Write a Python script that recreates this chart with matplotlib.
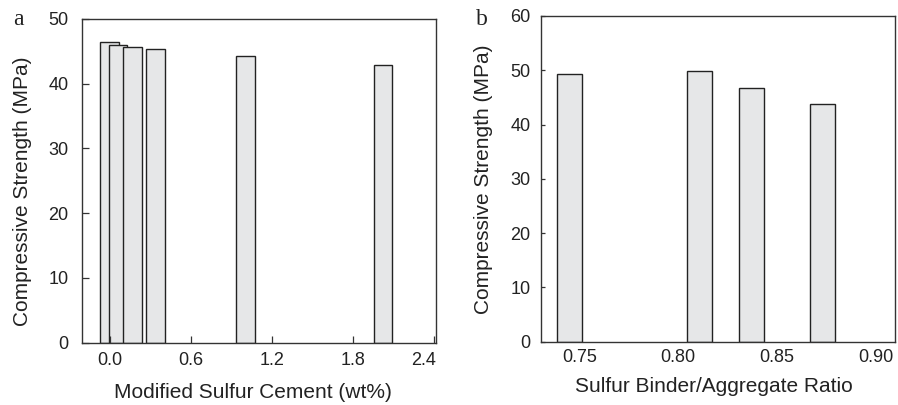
import matplotlib
matplotlib.use('Agg')
import matplotlib.pyplot as plt
import matplotlib.transforms as mtransforms

plt.rcParams['font.family'] = ['Liberation Sans', 'DejaVu Sans']

# panel a: modified sulfur cement content
msc_wt = [0.0, 0.06, 0.17, 0.34, 1.0, 2.02]
msc_strength = [46.4, 45.9, 45.6, 45.4, 44.3, 42.8]
msc_ticks = [0.0, 0.6, 1.2, 1.8, 2.4]

# panel b: sulfur binder / aggregate ratio
ratio = [0.745, 0.811, 0.837, 0.873]
ratio_strength = [49.3, 49.8, 46.8, 43.7]
ratio_ticks = [0.75, 0.80, 0.85, 0.90]

bar_color = '#e6e7e8'
edge = '#222222'
spine_color = '#333333'

fig = plt.figure(figsize=(8.98, 4.05), dpi=100)
ax1 = fig.add_axes([0.0908, 0.1538, 0.3944, 0.80])
ax2 = fig.add_axes([0.6021, 0.1563, 0.3946, 0.8042])

for x, h in zip(msc_wt, msc_strength):
    ax1.bar(x, h, width=0.14, color=bar_color, edgecolor=edge, linewidth=1.0)
ax1.set(xlim=(-0.21, 2.41), ylim=(0, 50), xticks=msc_ticks,
        yticks=[0, 10, 20, 30, 40, 50])
ax1.set_xticklabels(['%.1f' % t for t in msc_ticks])
ax1.tick_params(axis='both', direction='in', length=5, width=0.9,
                color=spine_color, labelsize=13, labelcolor='#222222')
ax1.tick_params(axis='x', pad=7)
ax1.tick_params(axis='y', pad=9.5)
ax1.set_xlabel('Modified Sulfur Cement (wt%)', fontsize=15, color='#222222')
ax1.set_ylabel('Compressive Strength (MPa)', fontsize=15, color='#222222')
ax1.xaxis.set_label_coords(0.483, -0.124)
ax1.yaxis.set_label_coords(-0.141, 0.466)
# last tick label sits a bit left of its tick in the original
lbl = ax1.get_xticklabels()[-1]
lbl.set_transform(lbl.get_transform() +
                  mtransforms.ScaledTranslation(-11 / 100, 0, fig.dpi_scale_trans))

for x, h in zip(ratio, ratio_strength):
    ax2.bar(x, h, width=0.0128, color=bar_color, edgecolor=edge, linewidth=1.0)
ax2.set(xlim=(0.7305, 0.9098), ylim=(0, 60), xticks=ratio_ticks,
        yticks=[0, 10, 20, 30, 40, 50, 60])
ax2.set_xticklabels(['%.2f' % t for t in ratio_ticks])
ax2.tick_params(axis='both', direction='in', width=0.9, color=spine_color,
                labelsize=13, labelcolor='#222222')
ax2.tick_params(axis='x', length=0, pad=5)
ax2.tick_params(axis='y', length=3, pad=7.5)
ax2.set_xlabel('Sulfur Binder/Aggregate Ratio', fontsize=15, color='#222222')
ax2.set_ylabel('Compressive Strength (MPa)', fontsize=15, color='#222222')
ax2.xaxis.set_label_coords(0.489, -0.107)
ax2.yaxis.set_label_coords(-0.135, 0.5)

for ax in (ax1, ax2):
    for s in ax.spines.values():
        s.set_linewidth(1.0)
        s.set_color(spine_color)

fig.text(0.02, 0.953, 'a', family='Liberation Serif', fontsize=17,
         ha='center', va='center', color='#222222')
fig.text(0.5364, 0.951, 'b', family='Liberation Serif', fontsize=17,
         ha='center', va='center', color='#222222')

fig.savefig('out.png', dpi=100)
